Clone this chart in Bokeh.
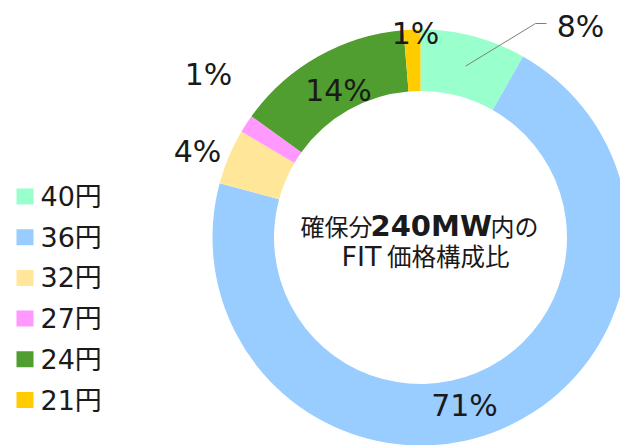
import math
from bokeh.plotting import figure
from bokeh.models import Range1d, ColumnDataSource
from bokeh.core.properties import value
from bokeh.embed import file_html
from bokeh.resources import INLINE

# ---- data ----
categories = ["40円", "36円", "32円", "27円", "24円", "21円"]
shares = [8.2, 71.0, 4.3, 1.4, 13.8, 1.3]
pct_labels = ["8%", "71%", "4%", "1%", "14%", "1%"]
colors = ["#99FFCC", "#99CCFF", "#FFE699", "#FF99FF", "#509E2F", "#FFCC00"]
center_line1 = ["確保分", "240MW", "内の"]
center_line2 = ["FIT", "価格構成比"]

# ---- layout (screen coords of the reference, converted to data) ----
CXS, CYS = 420, 237          # donut centre in window pixels
W, H = 620, 445
OFF = 0


def dx(sx):
    return sx - CXS


def dy(sy):
    return CYS - sy


p = figure(width=W, height=H,
           x_range=Range1d(OFF - CXS, OFF - CXS + W),
           y_range=Range1d(CYS - OFF - H, CYS - OFF),
           output_backend="svg", toolbar_location=None, min_border=0)
p.axis.visible = False
p.grid.visible = False
p.outline_line_color = None
p.background_fill_color = "white"
p.border_fill_color = "white"

FONT = value("DejaVu Sans, Noto Sans CJK JP")
CJK = value("Noto Sans CJK JP")

# ---- donut ----
total = sum(shares)
starts, ends, mids = [], [], []
c = 0.0
for s in shares:
    a0 = math.pi / 2 - 2 * math.pi * c / total
    c += s
    a1 = math.pi / 2 - 2 * math.pi * c / total
    starts.append(a0)
    ends.append(a1)
    mids.append((a0 + a1) / 2)

R_IN, R_OUT = 146.5, 208
src = ColumnDataSource(dict(start=starts, end=ends, color=colors, cat=categories))
p.annular_wedge(x=0, y=0, inner_radius=R_IN, outer_radius=R_OUT,
                start_angle="start", end_angle="end", direction="clock",
                fill_color="color", line_color=None, source=src)

# ---- leader line for the first slice ----
rm = (R_IN + R_OUT) / 2
lx0 = rm * math.cos(mids[0])
ly0 = rm * math.sin(mids[0])
p.line(x=[lx0, dx(535), dx(546)], y=[ly0, dy(23), dy(23)],
       line_color="#7F7F7F", line_width=1)

# ---- percentage labels ----
label_pos = [(580, 26), (464, 405), (197, 151), (208, 74), (338, 90), (415, 33)]
p.text(x=[dx(a) for a, b in label_pos], y=[dy(b) for a, b in label_pos],
       text=pct_labels, text_align="center", text_baseline="middle",
       text_font=FONT, text_font_size="30px", text_color="#1A1A1A")

# ---- legend ----
leg_y = [dy(196 + i * 40.7) for i in range(len(categories))]
p.rect(x=[dx(24.5)] * len(categories), y=leg_y, width=17, height=16,
       fill_color=colors, line_color=None)
p.text(x=[dx(40)] * len(categories), y=leg_y, text=categories,
       text_align="left", text_baseline="middle",
       text_font=FONT, text_font_size="27px", text_color="#1A1A1A")

# ---- centre text ----
def ctext(t, xx, yy, size, style="normal", align="left", font=FONT):
    p.text(x=[dx(xx)], y=[dy(yy)], text=[t], text_align=align,
           text_baseline="middle", text_font=font, text_font_size=size,
           text_font_style=style, text_color="#1A1A1A")


ctext(center_line1[0], 300, 225, "24px", font=CJK)
ctext(center_line1[1], 370, 225, "29px", style="bold")
ctext(center_line1[2], 490, 225, "24px", font=CJK)
ctext(center_line2[0], 341, 256, "27px")
ctext(center_line2[1], 509, 255, "24.5px", align="right", font=CJK)

open("out.html", "w").write(file_html(p, INLINE))
